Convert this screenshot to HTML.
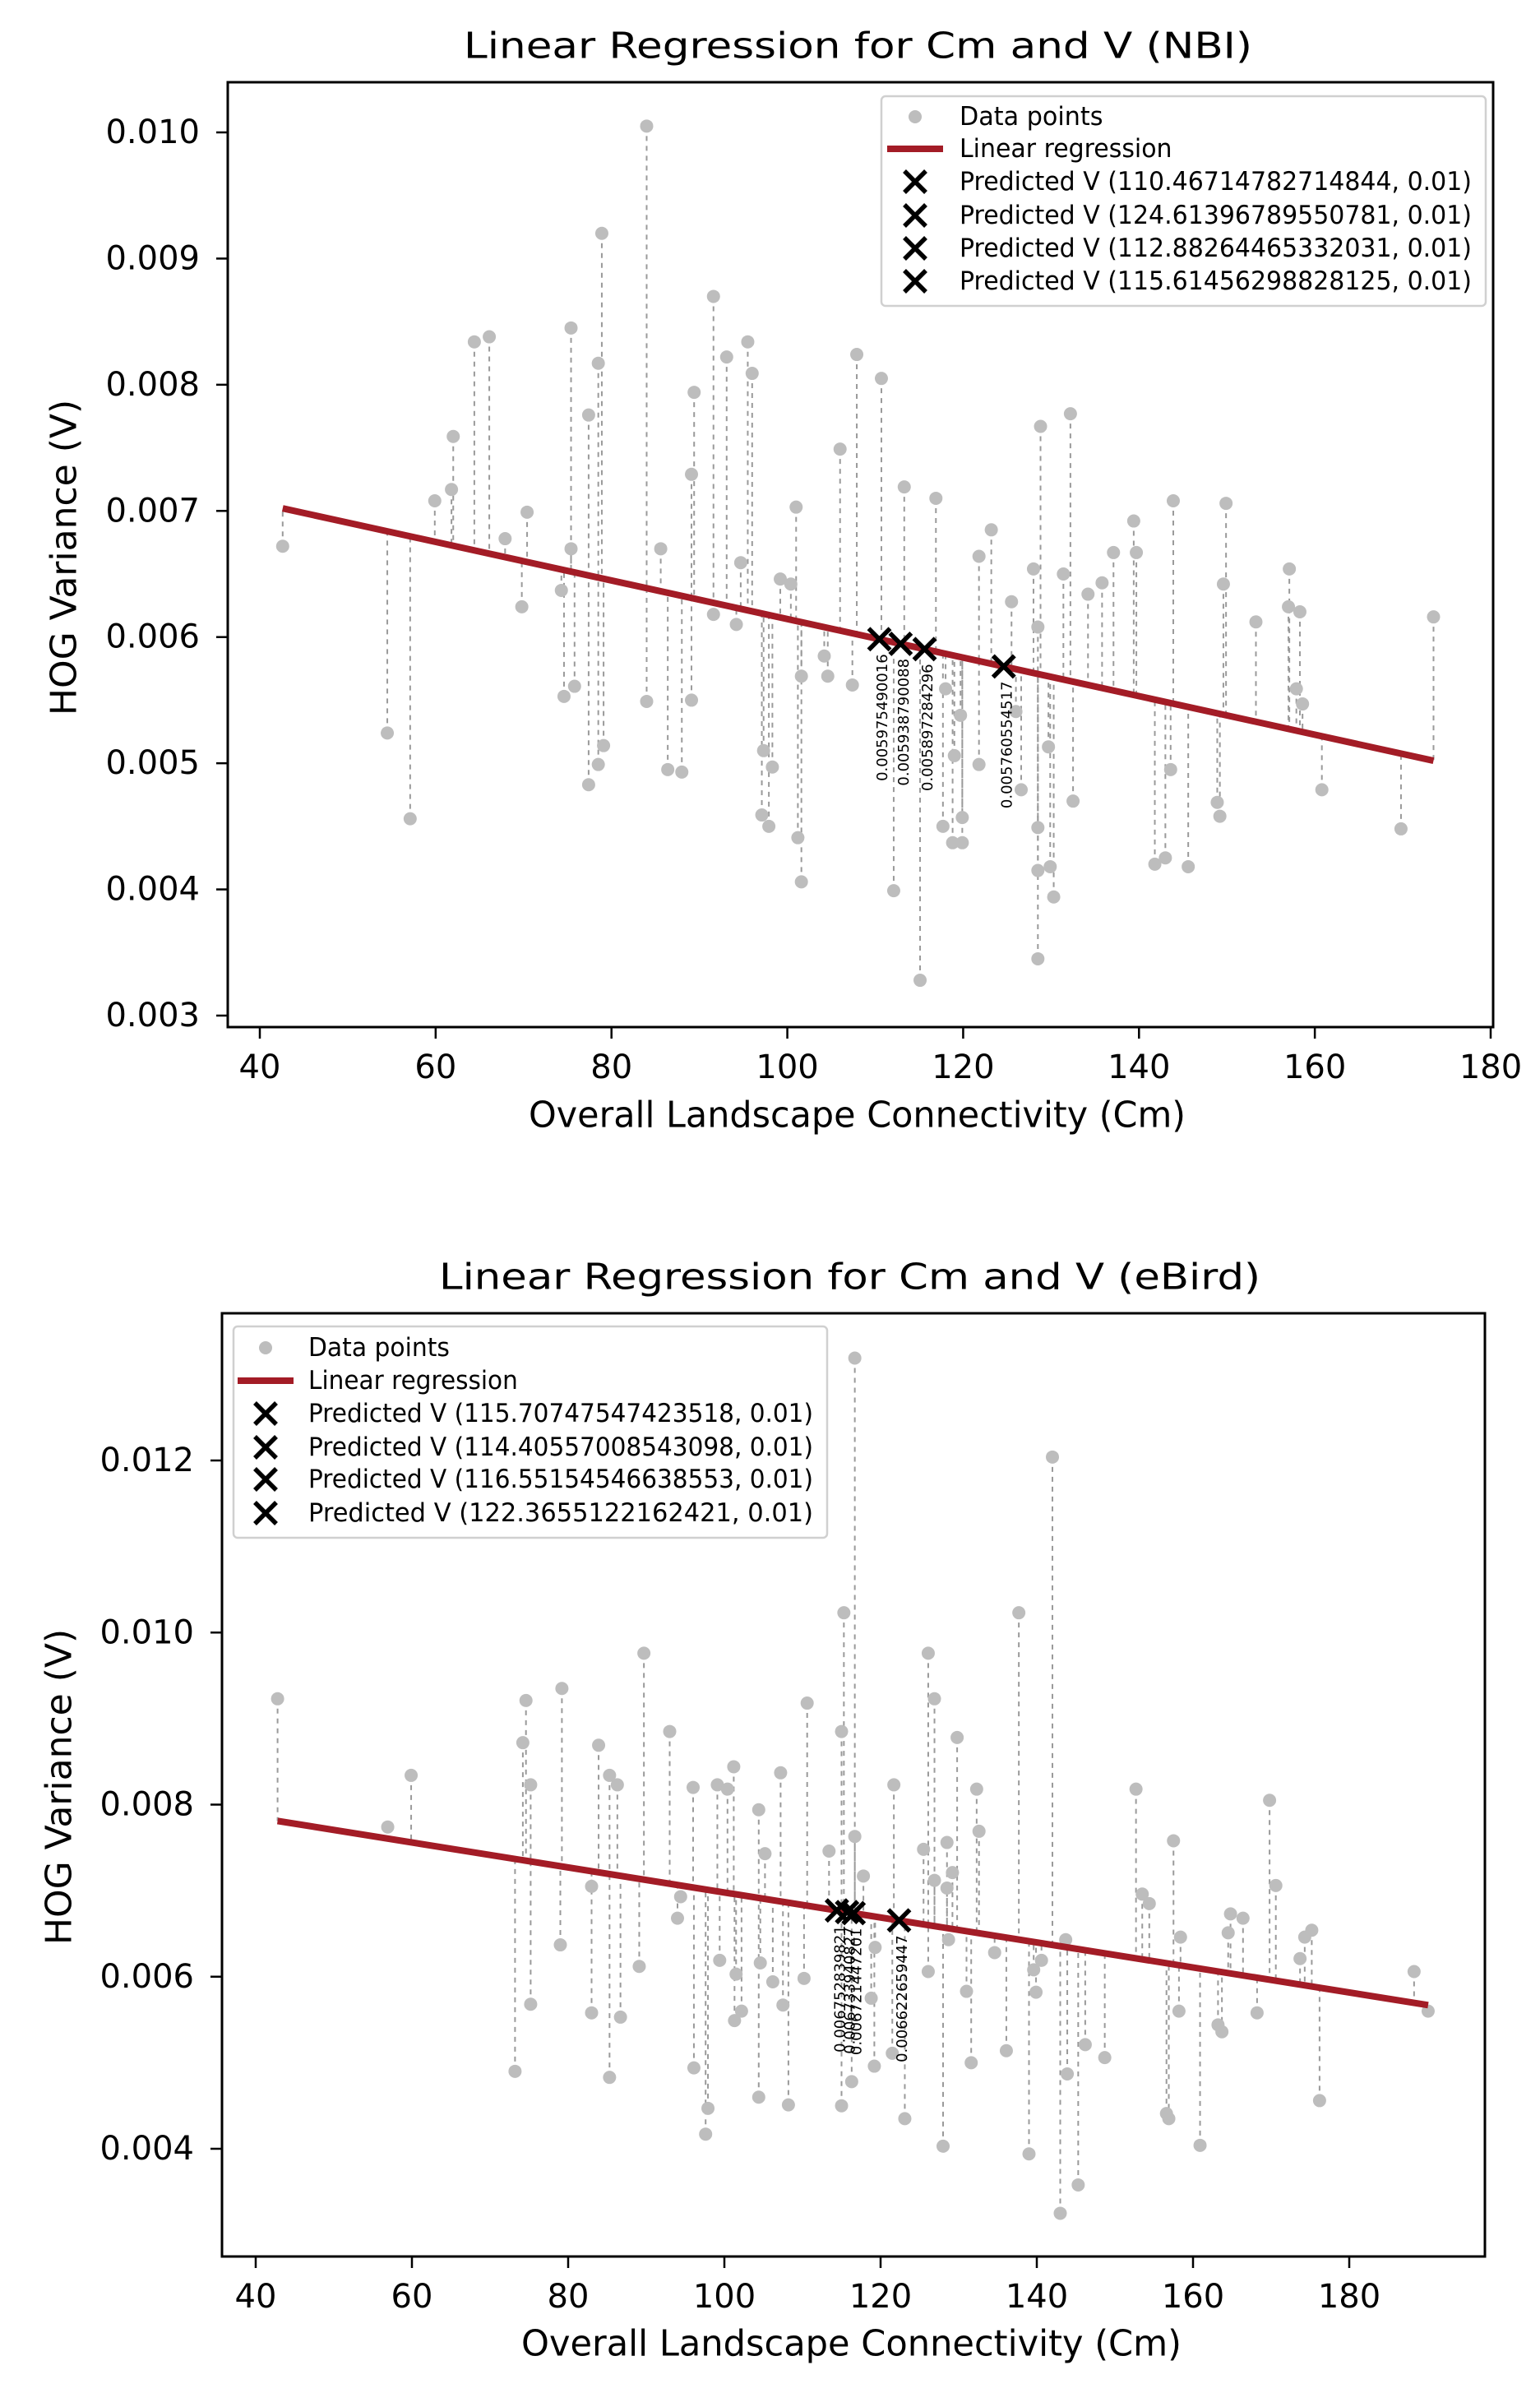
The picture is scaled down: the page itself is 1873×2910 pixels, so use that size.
<!DOCTYPE html>
<html><head><meta charset="utf-8"><title>Linear Regression for Cm and V</title>
<style>
html,body{margin:0;padding:0;background:#fff;}
svg{display:block;}
text{font-family:"DejaVu Sans","Liberation Sans",sans-serif;fill:#000;}
</style></head>
<body>
<svg id="fig" xmlns="http://www.w3.org/2000/svg" width="1873" height="2910" viewBox="0 0 1873 2910">
<rect width="1873" height="2910" fill="#fff"/>
</svg>
<script>
// ---------- Chart 1 (NBI) data ----------
const nbiX = [42.6,54.5,57.1,59.9,61.8,62.0,64.4,66.1,67.9,69.8,70.4,74.3,74.6,75.4,75.4,75.8,77.4,77.4,78.5,78.5,78.9,79.1,84.0,84.0,85.6,86.4,88.0,89.1,89.1,89.4,91.6,91.6,93.1,94.2,94.7,95.5,96.0,97.1,97.3,97.9,98.3,99.2,100.4,101.0,101.2,101.6,101.6,104.2,104.6,106.0,107.4,107.9,110.7,112.1,113.3,115.1,116.9,117.7,118.0,119.0,118.8,119.7,119.9,119.9,121.8,121.8,123.2,125.5,126.0,126.6,128.0,128.5,128.8,128.5,128.5,128.5,129.7,129.9,130.3,131.4,132.2,132.5,134.2,135.8,137.1,139.4,139.7,141.8,143.0,143.6,143.9,145.6,148.9,149.2,149.6,149.9,153.3,157.1,157.0,157.9,158.3,158.6,160.8,169.8,173.5];
const nbiY = [0.00672,0.00524,0.00456,0.00708,0.00717,0.00759,0.00834,0.00838,0.00678,0.00624,0.00699,0.00637,0.00553,0.00845,0.00670,0.00561,0.00776,0.00483,0.00817,0.00499,0.00920,0.00514,0.01005,0.00549,0.00670,0.00495,0.00493,0.00729,0.00550,0.00794,0.00870,0.00618,0.00822,0.00610,0.00659,0.00834,0.00809,0.00459,0.00510,0.00450,0.00497,0.00646,0.00642,0.00703,0.00441,0.00569,0.00406,0.00585,0.00569,0.00749,0.00562,0.00824,0.00805,0.00399,0.00719,0.00328,0.00710,0.00450,0.00559,0.00506,0.00437,0.00538,0.00457,0.00437,0.00664,0.00499,0.00685,0.00628,0.00541,0.00479,0.00654,0.00608,0.00767,0.00449,0.00415,0.00345,0.00513,0.00418,0.00394,0.00650,0.00777,0.00470,0.00634,0.00643,0.00667,0.00692,0.00667,0.00420,0.00425,0.00495,0.00708,0.00418,0.00469,0.00458,0.00642,0.00706,0.00612,0.00654,0.00624,0.00559,0.00620,0.00547,0.00479,0.00448,0.00616];
const nbiLineX = [42.6, 173.5];
const nbiLineY = [0.00702, 0.00502];
const nbiPredX = [110.46714782714844, 124.61396789550781, 112.88264465332031, 115.61456298828125];
const nbiPredLabels = ["0.005975490016","0.005760554517","0.005938790088","0.005897284296"];
const nbiXTicks = [40,60,80,100,120,140,160,180];
const nbiYTicks = [0.003,0.004,0.005,0.006,0.007,0.008,0.009,0.010];
const nbiYTickLabels = ["0.003","0.004","0.005","0.006","0.007","0.008","0.009","0.010"];
const nbiLegendLabels = ["Predicted V (110.46714782714844, 0.01)","Predicted V (124.61396789550781, 0.01)","Predicted V (112.88264465332031, 0.01)","Predicted V (115.61456298828125, 0.01)"];

// ---------- Chart 2 (eBird) data ----------
const ebX = [42.8,56.9,59.9,73.2,74.2,74.6,75.2,75.2,79.0,79.2,83.0,83.0,83.9,85.3,85.3,86.3,86.7,89.1,89.7,93.0,94.0,94.4,96.0,96.1,97.9,97.6,99.1,99.4,100.4,101.2,101.3,101.5,102.2,104.4,104.6,104.4,105.2,106.2,107.2,107.5,108.2,110.2,110.6,113.4,115.0,115.3,115.0,116.7,116.7,116.3,117.8,118.8,119.2,119.3,121.7,121.5,123.1,125.5,126.1,126.1,126.9,126.9,128.0,128.5,128.5,128.7,129.2,129.8,131.0,131.6,132.3,132.6,134.6,136.1,137.7,139.0,139.6,139.9,140.6,142.0,143.0,143.7,143.9,145.3,146.2,148.7,152.7,153.5,154.4,156.6,156.9,157.5,158.2,158.4,160.9,163.2,163.7,164.5,164.8,166.4,168.2,169.8,170.6,173.7,174.3,175.2,176.2,188.3,190.1];
const ebY = [0.00923,0.00774,0.00834,0.00490,0.00872,0.00921,0.00823,0.00568,0.00637,0.00935,0.00705,0.00558,0.00869,0.00834,0.00483,0.00823,0.00553,0.00612,0.00976,0.00885,0.00668,0.00693,0.00820,0.00494,0.00447,0.00417,0.00823,0.00619,0.00818,0.00844,0.00549,0.00603,0.00560,0.00794,0.00616,0.00460,0.00743,0.00594,0.00837,0.00567,0.00451,0.00598,0.00918,0.00746,0.00885,0.01023,0.00450,0.01319,0.00763,0.00478,0.00717,0.00575,0.00496,0.00634,0.00823,0.00511,0.00435,0.00748,0.00976,0.00606,0.00923,0.00712,0.00403,0.00756,0.00703,0.00643,0.00721,0.00878,0.00583,0.00500,0.00818,0.00769,0.00628,0.00514,0.01023,0.00394,0.00608,0.00582,0.00619,0.01204,0.00325,0.00643,0.00487,0.00358,0.00521,0.00506,0.00818,0.00696,0.00685,0.00441,0.00435,0.00758,0.00560,0.00646,0.00404,0.00544,0.00536,0.00651,0.00673,0.00668,0.00558,0.00805,0.00706,0.00621,0.00646,0.00654,0.00456,0.00606,0.00560];
const ebLineX = [42.8, 190.1];
const ebLineY = [0.00781, 0.00567];
const ebPredX = [115.70747547423518, 114.40557008543098, 116.55154546638553, 122.3655122162421];
const ebPredLabels = ["0.006733940827","0.006752839821","0.006721447201","0.006622659447"];
const ebXTicks = [40,60,80,100,120,140,160,180];
const ebYTicks = [0.004,0.006,0.008,0.010,0.012];
const ebYTickLabels = ["0.004","0.006","0.008","0.010","0.012"];
const ebLegendLabels = ["Predicted V (115.70747547423518, 0.01)","Predicted V (114.40557008543098, 0.01)","Predicted V (116.55154546638553, 0.01)","Predicted V (122.3655122162421, 0.01)"];

const NS = "http://www.w3.org/2000/svg";
const fig = document.getElementById('fig');
function mk(tag, attrs, parent){
  const e = document.createElementNS(NS, tag);
  for (const k in attrs) e.setAttribute(k, attrs[k]);
  (parent||fig).appendChild(e);
  return e;
}
function xPath(px, py, s){ return `M${px-s},${py-s}L${px+s},${py+s}M${px-s},${py+s}L${px+s},${py-s}`; }

function drawChart(key, xs, ys, lineX, lineY, predX, predLabels, xTicks, yTicks, yTickLabels, legendLabels, L){
  const g = mk('g', {});
  
  
  const X = v => L.x0px + (v - L.x0) * (L.x1px - L.x0px) / (L.x1 - L.x0);
  const Y = v => L.y0px + (v - L.y0) * (L.y1px - L.y0px) / (L.y1 - L.y0);
  const slope = (lineY[1] - lineY[0]) / (lineX[1] - lineX[0]);
  const lineAt = v => lineY[0] + slope * (v - lineX[0]);

  const t = mk('text', {x:(L.titleX0+L.titleX1)/2, y:L.titleY, 'font-size':44, 'text-anchor':'middle', 'dominant-baseline':'central', textLength:L.titleX1-L.titleX0, lengthAdjust:'spacingAndGlyphs'}, g);
  t.textContent = L.title;
  
  

  const rg = mk('g', {stroke:'#9a9a9a', 'stroke-width':2, 'stroke-dasharray':'6,6'}, g);
  
  
  for (let i=0;i<xs.length;i++){
    const ln = mk('line', {x1:X(xs[i]), y1:Y(ys[i]), x2:X(xs[i]), y2:Y(lineAt(xs[i]))}, rg);
    
    
  }
  const pg = mk('g', {fill:'#bdbdbd'}, g);
  
  
  for (let i=0;i<xs.length;i++){
    const c = mk('circle', {cx:X(xs[i]), cy:Y(ys[i]), r:8}, pg);
    
    
  }
  const rl = mk('line', {x1:X(lineX[0]), y1:Y(lineY[0]), x2:X(lineX[1]), y2:Y(lineY[1]), stroke:'#a31c26', 'stroke-width':8}, g);
  
  
  for (let i=0;i<predX.length;i++){
    const px = X(predX[i]), py = Y(lineAt(predX[i]));
    const m = mk('path', {d:xPath(px,py,13), stroke:'#000', 'stroke-width':5.5, fill:'none'}, g);
    
    
    const at = mk('text', {x:0, y:0, 'font-size':18, 'text-anchor':'end', 'dominant-baseline':'central', transform:`translate(${px+4},${py+18}) rotate(-90)`}, g);
    at.textContent = predLabels[i];
    
    
  }
  const box = mk('rect', {x:L.bx0, y:L.by0, width:L.bx1-L.bx0, height:L.by1-L.by0, fill:'none', stroke:'#000', 'stroke-width':3}, g);
  
  
  for (const v of xTicks){
    const tk = mk('line', {x1:X(v), y1:L.by1, x2:X(v), y2:L.by1+14, stroke:'#000', 'stroke-width':2.5}, g);
    
    
    const tl = mk('text', {x:X(v), y:L.xTickY, 'font-size':40, 'text-anchor':'middle', 'dominant-baseline':'central'}, g);
    tl.textContent = v;
    
    
  }
  for (let i=0;i<yTicks.length;i++){
    const v = yTicks[i];
    const tk = mk('line', {x1:L.bx0-14, y1:Y(v), x2:L.bx0, y2:Y(v), stroke:'#000', 'stroke-width':2.5}, g);
    
    
    const tl = mk('text', {x:L.bx0-34, y:Y(v), 'font-size':40, 'text-anchor':'end', 'dominant-baseline':'central'}, g);
    tl.textContent = yTickLabels[i];
    
    
  }
  const xt = mk('text', {x:(L.xlX0+L.xlX1)/2, y:L.xlY, 'font-size':44, 'text-anchor':'middle', 'dominant-baseline':'central', textLength:L.xlX1-L.xlX0, lengthAdjust:'spacingAndGlyphs'}, g);
  xt.textContent = 'Overall Landscape Connectivity (Cm)';
  
  
  const yt = mk('text', {x:0, y:0, 'font-size':44, 'text-anchor':'middle', 'dominant-baseline':'central', transform:`translate(${L.ylX},${L.ylY}) rotate(-90)`}, g);
  yt.textContent = 'HOG Variance (V)';
  
  

  const lg = mk('g', {}, g);
  
  
  mk('rect', {x:L.lgx0, y:L.lgy0, width:L.lgx1-L.lgx0, height:L.lgy1-L.lgy0, rx:5, fill:'#fff', 'fill-opacity':0.85, stroke:'#d0d0d0', 'stroke-width':2.5}, lg);
  const rows = L.lgRows;
  const dot = mk('circle', {cx:L.lgMarkX, cy:rows[0], r:8, fill:'#bdbdbd'}, lg);
  
  
  const seg = mk('line', {x1:L.lgMarkX-34, y1:rows[1], x2:L.lgMarkX+34, y2:rows[1], stroke:'#a31c26', 'stroke-width':8}, lg);
  
  
  const labels = ['Data points','Linear regression'].concat(legendLabels);
  for (let i=0;i<labels.length;i++){
    const attrs = {x:L.lgTextX, y:rows[i], 'font-size':31, 'dominant-baseline':'central', lengthAdjust:'spacingAndGlyphs'};
    attrs.textLength = i>=2 ? L.lgPredLen : (i===0 ? L.lgPredLen*0.28 : L.lgPredLen*0.415);
    const tx = mk('text', attrs, lg);
    tx.textContent = labels[i];
    
    
    if (i>=2){
      const m = mk('path', {d:xPath(L.lgMarkX, rows[i], 13), stroke:'#000', 'stroke-width':5.5, fill:'none'}, lg);
      
      
    }
  }
}

drawChart('nbi', nbiX, nbiY, nbiLineX, nbiLineY, nbiPredX, nbiPredLabels, nbiXTicks, nbiYTicks, nbiYTickLabels, nbiLegendLabels, {
  title:'Linear Regression for Cm and V (NBI)', titleX0:564, titleX1:1523, titleY:56,
  x0:40, x1:180, x0px:316, x1px:1813, y0:0.010, y1:0.003, y0px:161, y1px:1235,
  bx0:277, bx1:1816, by0:100, by1:1249, xTickY:1298,
  xlX0:643, xlX1:1442, xlY:1356, ylX:78, ylY:678,
  lgx0:1072, lgx1:1807, lgy0:117, lgy1:372, lgRows:[142,181,221,262,302,342],
  lgMarkX:1113, lgTextX:1167, lgPredLen:623
});
drawChart('ebird', ebX, ebY, ebLineX, ebLineY, ebPredX, ebPredLabels, ebXTicks, ebYTicks, ebYTickLabels, ebLegendLabels, {
  title:'Linear Regression for Cm and V (eBird)', titleX0:534, titleX1:1533, titleY:1553,
  x0:40, x1:180, x0px:311, x1px:1641, y0:0.012, y1:0.004, y0px:1776, y1px:2613,
  bx0:270, bx1:1806, by0:1597, by1:2744, xTickY:2793,
  xlX0:634, xlX1:1437, xlY:2850, ylX:72, ylY:2173,
  lgx0:284, lgx1:1006, lgy0:1613, lgy1:1870, lgRows:[1639,1679,1719,1760,1799,1840],
  lgMarkX:323, lgTextX:375, lgPredLen:614
});
</script>
</body></html>
